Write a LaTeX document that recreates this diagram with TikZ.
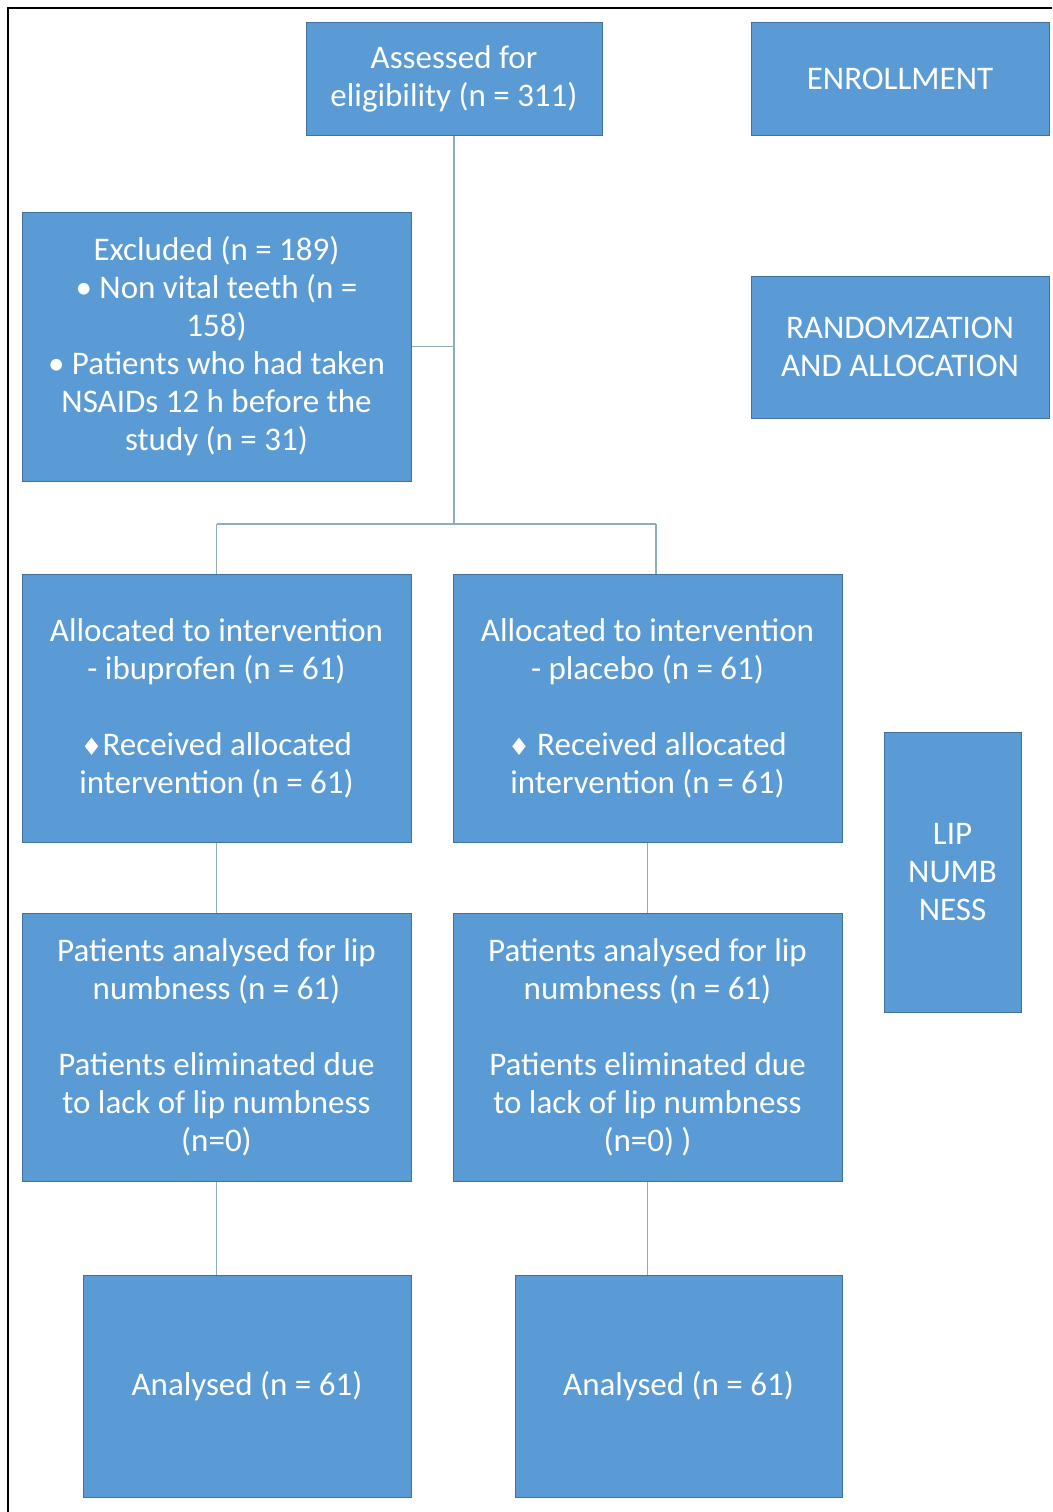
\documentclass[tikz,border=0pt]{standalone}
\usepackage{fontspec}
\setmainfont{Carlito}
\newfontfamily\dejavu{DejaVu Sans}
\definecolor{boxblue}{HTML}{5B9BD5}
\definecolor{boxedge}{HTML}{41719C}
\definecolor{connc}{HTML}{8EAEB8}
\begin{document}
\begin{tikzpicture}[x=1pt,y=-1pt,
  blk/.style={rectangle, fill=boxblue, draw=boxedge, line width=1pt, text=white,
    font=\fontsize{33}{38}\selectfont, align=center, inner sep=0pt},
  conn/.style={draw=connc, line width=1.6pt}]
\useasboundingbox (0,0) rectangle (1052,1512);
\fill[white] (0,0) rectangle (1052,1512);
\draw[black, line width=2pt] (8,1512) -- (8,8) -- (1052,8);

\node[blk, minimum width=296, minimum height=112] (assess) at (454,79) {Assessed for\\eligibility (n = 311)};
\node[blk, minimum width=298, minimum height=112] (enroll) at (900,79) {ENROLLMENT};
\node[blk, minimum width=389, minimum height=269] (excl) at (216.5,346.5) {Excluded (n = 189)\\\textbullet\ Non vital teeth (n =\\158)\\\textbullet\ Patients who had taken\\NSAIDs 12 h before the\\study (n = 31)};
\node[blk, minimum width=298, minimum height=142] (rand) at (900,347) {RANDOMZATION\\AND ALLOCATION};
\node[blk, minimum width=389, minimum height=268] (allocL) at (216.5,708) {Allocated to intervention\\- ibuprofen (n = 61)\\[38pt]{\dejavu\fontsize{24}{38}\selectfont\char"2666}Received allocated\\intervention (n = 61)};
\node[blk, minimum width=389, minimum height=268] (allocR) at (647.5,708) {Allocated to intervention\\- placebo (n = 61)\\[38pt]{\dejavu\fontsize{24}{38}\selectfont\char"2666}\ Received allocated\\intervention (n = 61)};
\node[blk, minimum width=137, minimum height=280] (lip) at (952.5,872) {LIP\\NUMB\\NESS};
\node[blk, minimum width=389, minimum height=268] (patL) at (216.5,1047) {Patients analysed for lip\\numbness (n = 61)\\[38pt]Patients eliminated due\\to lack of lip numbness\\(n=0)};
\node[blk, minimum width=389, minimum height=268] (patR) at (647.5,1047) {Patients analysed for lip\\numbness (n = 61)\\[38pt]Patients eliminated due\\to lack of lip numbness\\(n=0) )};
\node[blk, minimum width=328, minimum height=222] (anL) at (247,1386) {Analysed (n = 61)};
\node[blk, minimum width=327, minimum height=222] (anR) at (678.5,1386) {Analysed (n = 61)};

\coordinate (split) at (454,524);
\coordinate (splitL) at (216.5,524);
\coordinate (splitR) at (656,524);
\draw[conn] (assess.south) -- (split);
\draw[conn] (assess.south |- excl.east) -- (excl.east);
\draw[conn] (splitL) -- (splitR);
\draw[conn] (splitL) -- (allocL.north);
\draw[conn] (splitR) -- (splitR |- allocR.north);
\draw[conn] (allocL.south) -- (patL.north);
\draw[conn] (allocR.south) -- (patR.north);
\draw[conn] (patL.south) -- (patL.south |- anL.north);
\draw[conn] (patR.south) -- (patR.south |- anR.north);
\end{tikzpicture}
\end{document}
